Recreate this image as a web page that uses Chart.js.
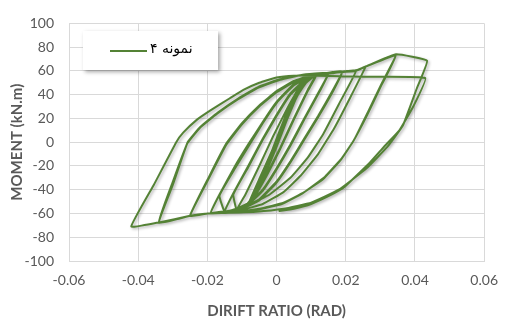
<!DOCTYPE html>
<html>
<head>
<meta charset="utf-8">
<script src="https://cdn.jsdelivr.net/npm/chart.js@4.4.0/dist/chart.umd.min.js"></script>
<style>
  body { margin: 0; background: #fff; }
  #chart { display: block; }
</style>
</head>
<body>
<canvas id="chart" width="509" height="320"></canvas>
<script>
// hysteresis path (rad, kN.m)
const driftRatio = [
  0,
  0.004, 0.0005, -0.004, -0.0005, 0.004, 0.0005, -0.004, -0.0006,
  0.0035, 0.006, 0.0035, 0, -0.0035, -0.006, -0.0035, 0, 0.0035, 0.006, 0.0035, 0, -0.0035, -0.006,
  -0.003, 0, 0.003, 0.006, 0.008, 0.0055, 0.003, 0, -0.003, -0.006, -0.008,
  -0.0055, -0.003, 0, 0.003, 0.006, 0.008, 0.0055, 0.003, 0, -0.003, -0.006, -0.008,
  -0.005, -0.001, 0.003, 0.006, 0.0085, 0.0115, 0.009, 0.005, 0.001, -0.003, -0.006, -0.0085, -0.0115,
  -0.009, -0.005, -0.001, 0.003, 0.006, 0.0085, 0.0115, 0.009, 0.005, 0.001, -0.003, -0.006, -0.0085, -0.0115,
  -0.0125, -0.008, -0.004, 0, 0.004, 0.008, 0.012, 0.015, 0.0125, 0.008, 0.004, 0, -0.004, -0.008, -0.012, -0.015,
  -0.0125, -0.008, -0.004, 0, 0.004, 0.008, 0.012, 0.015, 0.0125, 0.008, 0.004, 0, -0.004, -0.008, -0.012, -0.015,
  -0.0165, -0.012, -0.008, -0.004, 0, 0.005, 0.01, 0.015, 0.019, 0.0165, 0.012, 0.008, 0.004, 0, -0.005, -0.01, -0.015, -0.019,
  -0.0165, -0.012, -0.008, -0.004, 0, 0.005, 0.01, 0.015, 0.019, 0.0165, 0.012, 0.008, 0.004, 0, -0.005, -0.01, -0.015, -0.019,
  -0.0165, -0.012, -0.008, -0.004, 0, 0.005, 0.01, 0.016, 0.0229, 0.0257,
  0.021, 0.0167, 0.012, 0.007, 0.002, -0.004, -0.01, -0.016, -0.02, -0.025,
  -0.0195, -0.0145, -0.01, -0.005, 0, 0.005, 0.01, 0.016, 0.023,
  0.018, 0.0135, 0.009, 0.004, -0.002, -0.008, -0.014, -0.02, -0.025,
  -0.0195, -0.0145, -0.01, -0.005, 0, 0.005, 0.01, 0.016, 0.0229, 0.0257, 0.0345,
  0.0305, 0.0265, 0.0226, 0.019, 0.014, 0.008, 0.002, -0.005, -0.012, -0.02, -0.025, -0.034,
  -0.03, -0.0257, -0.022, -0.017, -0.011, -0.005, 0.001, 0.008, 0.015, 0.0229, 0.0345,
  0.0303, 0.0262, 0.0222, 0.0185, 0.0135, 0.0075, 0.0015, -0.005, -0.012, -0.02, -0.025, -0.034,
  -0.0302, -0.0258, -0.0222, -0.0172, -0.0112, -0.0052, 0.001, 0.008, 0.015, 0.0229, 0.0257, 0.0345, 0.0435,
  0.0405, 0.0365, 0.032, 0.026, 0.018, 0.01, 0.002, -0.006, -0.015, -0.02, -0.025, -0.034, -0.042,
  -0.0355, -0.029, -0.027, -0.023, -0.019, -0.0135, -0.0096, -0.005, 0, 0.005, 0.012, 0.025, 0.043,
  0.0395, 0.0355, 0.031, 0.027, 0.0195, 0.016, 0.01, 0.005, 0.0006
];
const moment = [
  0,
  30, 4, -30, -4, 29, 3, -29, -3,
  28, 43, 24, -3, -27, -44, -24, 3, 28, 42, 23, -4, -28, -43,
  -20, 3, 25, 44, 52, 37, 20, -3, -24, -44, -52,
  -37, -20, 3, 24, 43, 51, 36, 19, -4, -25, -44, -51,
  -31, -5, 21, 39, 50, 57, 44, 20, -5, -28, -43, -52, -57,
  -44, -20, 5, 28, 43, 52, 56.5, 43, 19, -6, -29, -44, -52.5, -57,
  -44, -20, 2, 22, 40, 51, 56.5, 58, 44, 20, -2, -22, -40, -51, -56.5, -58.5,
  -43, -19, 3, 23, 41, 52, 57, 58, 43, 19, -3, -23, -41, -52, -57, -58.5,
  -45, -22, -3, 16, 33, 48, 55.5, 58.5, 59.5, 45, 22, 3, -16, -33, -48, -55.5, -58.5, -59.5,
  -44, -21, -2, 17, 34, 49, 56, 58.5, 59.5, 44, 21, 2, -17, -34, -49, -56, -58.5, -59.5,
  -44, -20, -1, 17, 34, 49, 56, 58.5, 60, 63.6,
  36, 12, -10, -28, -42, -52, -57, -59, -60, -62,
  -30, -2, 15, 30, 42, 50.5, 55.5, 58, 60.5,
  32, 7, -13, -30, -44, -53, -58, -60, -62,
  -29, -1, 16, 31, 43, 51.5, 56.5, 58.5, 60, 63.6, 74,
  50, 26, 3, -13, -29, -42, -51, -56, -58.5, -60, -62, -68,
  -36, 0, 13, 25, 37, 47, 53, 57, 58.5, 60.5, 73,
  48, 23, 1, -15, -31, -43, -52, -56.5, -58.5, -60, -62, -67.5,
  -35, -1, 12, 24, 36, 46, 52.5, 57, 58.5, 60.5, 63.6, 74, 68.6,
  45, 14, -4, -22, -40, -51, -56, -58.5, -59.5, -60, -62, -67.5, -71,
  -36, 0, 8, 19, 27, 37, 44, 50, 54.5, 56, 56, 55, 54,
  30, 10, -4, -17, -38, -44, -52, -56, -58
];
const seriesLabel = 'نمونه ۴';
const xTicks = [-0.06, -0.04, -0.02, 0, 0.02, 0.04, 0.06];
const xTickLabels = ['-0.06', '-0.04', '-0.02', '0', '0.02', '0.04', '0.06'];
const yTicks = [-100, -80, -60, -40, -20, 0, 20, 40, 60, 80, 100];

const lineColor = '#548235';
const gridColor = '#d9d9d9';
const textColor = '#595959';

const points = driftRatio.map((x, i) => ({ x: x, y: moment[i] }));

// soft shadow under the curves, like the Excel line effect
const shadowPlugin = {
  id: 'lineShadow',
  beforeDatasetsDraw(chart) {
    const c = chart.ctx;
    c.save();
    c.shadowColor = 'rgba(0,0,0,0.3)';
    c.shadowBlur = 3;
    c.shadowOffsetX = 1.5;
    c.shadowOffsetY = 1.5;
  },
  afterDatasetsDraw(chart) {
    chart.ctx.restore();
  }
};

// legend box sitting inside the plot, top left
const boxLegend = {
  id: 'boxLegend',
  afterDraw(chart) {
    const c = chart.ctx;
    const ds = chart.data.datasets[0];
    c.save();
    c.shadowColor = 'rgba(0,0,0,0.35)';
    c.shadowBlur = 4;
    c.shadowOffsetX = 2;
    c.shadowOffsetY = 2;
    c.fillStyle = '#fff';
    c.fillRect(83, 31, 135, 39);
    c.restore();

    c.save();
    c.strokeStyle = ds.borderColor;
    c.lineWidth = 2;
    c.beginPath();
    c.moveTo(110, 51);
    c.lineTo(147, 51);
    c.stroke();
    c.fillStyle = '#000';
    c.font = '14px "DejaVu Sans"';
    c.textBaseline = 'middle';
    c.textAlign = 'left';
    c.fillText(ds.label, 150, 49);
    c.restore();
  }
};

const ctx = document.getElementById('chart').getContext('2d');
const chart = new Chart(ctx, {
  type: 'scatter',
  data: {
    datasets: [{
      label: seriesLabel,
      data: points,
      showLine: true,
      borderColor: lineColor,
      borderWidth: 2,
      pointRadius: 0,
      tension: 0.1,
      fill: false
    }]
  },
  options: {
    responsive: false,
    animation: false,
    layout: { padding: { top: 19, right: 15, left: 0, bottom: 0 } },
    plugins: {
      legend: { display: false },
      tooltip: { enabled: false }
    },
    scales: {
      x: {
        type: 'linear',
        min: -0.06,
        max: 0.06,
        afterBuildTicks: s => { s.ticks = xTicks.map(v => ({ value: v })); },
        afterFit: s => { s.height = 59; },
        grid: { color: gridColor, drawTicks: false },
        border: { color: gridColor },
        ticks: {
          padding: 11,
          color: textColor,
          font: { family: 'Lato', size: 14 },
          callback: (v, i) => xTickLabels[i]
        },
        title: {
          display: true,
          text: 'DIRIFT RATIO (RAD)',
          color: textColor,
          font: { family: 'Lato', size: 15, weight: 'bold' },
          padding: { top: 7, bottom: 0 }
        }
      },
      y: {
        type: 'linear',
        min: -100,
        max: 100,
        afterBuildTicks: s => { s.ticks = yTicks.map(v => ({ value: v })); },
        afterFit: s => { s.width = 69; },
        grid: { color: gridColor, drawTicks: false },
        border: { color: gridColor },
        ticks: {
          padding: 15,
          color: textColor,
          font: { family: 'Lato', size: 14 },
          callback: v => String(v)
        },
        title: {
          display: true,
          text: 'MOMENT (kN.m)',
          color: textColor,
          font: { family: 'Lato', size: 15, weight: 'bold' },
          padding: { top: 8, bottom: 0 }
        }
      }
    }
  },
  plugins: [shadowPlugin, boxLegend]
});
</script>
</body>
</html>
